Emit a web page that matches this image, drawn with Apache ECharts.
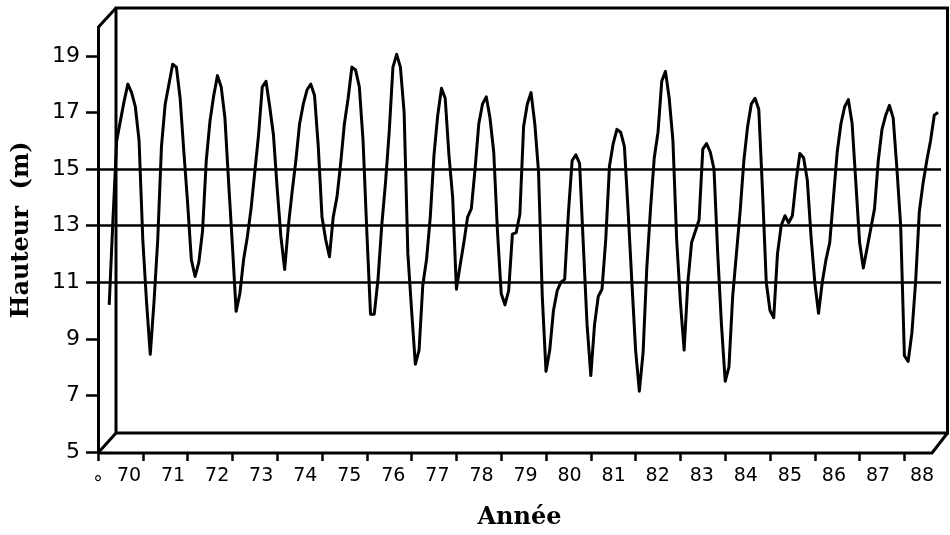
<!DOCTYPE html>
<html><head><meta charset="utf-8">
<script src="https://cdn.jsdelivr.net/npm/echarts@6/dist/echarts.min.js"></script>
<style>html,body{margin:0;padding:0;background:#fff}#c{width:950px;height:535px}</style>
</head><body><div id="c"></div>
<script>
// Monthly water height (m); first value = month index 3 of 1970
const startYear = 1970;
const startMonth = 3;
const hauteur = [
  10.2,13.2,16.0,16.7,17.4,18.0,17.7,17.2,16.0,
  12.5,10.3,8.45,10.3,12.5,15.8,17.3,18.0,18.7,18.6,17.5,15.6,
  13.8,11.8,11.2,11.7,12.8,15.3,16.7,17.6,18.3,17.9,16.8,14.5,
  12.3,9.97,10.6,11.8,12.6,13.6,14.9,16.2,17.9,18.1,17.2,16.2,
  14.3,12.6,11.45,13.0,14.2,15.3,16.6,17.3,17.8,18.0,17.6,15.8,
  13.3,12.5,11.9,13.3,14.0,15.2,16.6,17.5,18.6,18.5,17.9,16.0,
  12.8,9.87,9.87,11.1,13.0,14.5,16.3,18.6,19.05,18.6,17.0,12.0,
  10.0,8.1,8.6,10.9,11.8,13.3,15.5,16.9,17.85,17.5,15.5,14.0,
  10.75,11.6,12.4,13.3,13.6,15.0,16.6,17.3,17.55,16.8,15.6,12.8,
  10.6,10.2,10.7,12.7,12.75,13.4,16.5,17.3,17.7,16.6,14.9,10.5,
  7.85,8.6,10.0,10.7,11.0,11.1,13.45,15.3,15.5,15.2,12.3,9.5,
  7.7,9.5,10.5,10.75,12.5,15.1,15.9,16.4,16.3,15.8,13.5,11.0,
  8.6,7.15,8.5,11.5,13.6,15.4,16.3,18.1,18.45,17.5,16.0,12.5,
  10.3,8.6,11.0,12.4,12.8,13.2,15.7,15.9,15.6,15.0,12.0,9.5,
  7.5,8.0,10.5,12.0,13.5,15.3,16.5,17.3,17.5,17.1,14.2,11.0,
  10.0,9.75,12.0,13.0,13.35,13.1,13.35,14.6,15.55,15.4,14.6,12.6,
  11.0,9.9,11.0,11.8,12.4,14.0,15.6,16.6,17.2,17.45,16.6,14.5,
  12.4,11.5,12.2,12.9,13.6,15.3,16.4,16.9,17.25,16.8,15.0,13.0,
  8.4,8.2,9.2,11.0,13.5,14.5,15.3,16.0,16.9,17.0
];
const yearTicks = [1970,1971,1972,1973,1974,1975,1976,1977,1978,1979,1980,1981,1982,1983,1984,1985,1986,1987,1988];
const yearLabels = [70,71,72,73,74,75,76,77,78,79,80,81,82,83,84,85,86,87,88];
const originLabel = '°';
const yTicks = [5,7,9,11,13,15,17,19];
const gridLevels = [11,13,15];
const yTitle = 'Hauteur  (m)';
const xTitle = 'Année';

const seriesData = hauteur.map((v, i) => [startYear + (startMonth + i) / 12, v]);

const chart = echarts.init(document.getElementById('c'), null, {renderer: 'canvas'});
const F = 'DejaVu Sans';
const FS = 'DejaVu Serif';

// 3D-look frame (decoration)
const frame = {fl: 98, fb: 453, ft: 27.5, fr: 932, bl: 116, bt: 8, br: 947.5, bb: 433};

chart.setOption({
  backgroundColor: '#fff',
  animation: false,
  grid: {left: 98, top: 27.5, width: 843, height: 425.5},
  xAxis: [{
    type: 'value', min: 1970, max: 1988.817,
    axisLine: {show: false},
    axisTick: {show: true, customValues: yearTicks, length: 9, lineStyle: {color: '#000', width: 2.5}},
    axisLabel: {customValues: [1970], formatter: () => originLabel, margin: 24, fontSize: 19, fontFamily: F, color: '#000'},
    splitLine: {show: false}
  }, {
    type: 'value', min: 69.296, max: 88.43, position: 'bottom',
    axisLine: {show: false}, axisTick: {show: false}, splitLine: {show: false},
    axisLabel: {customValues: yearLabels, formatter: v => String(v), margin: 15, fontSize: 19, fontFamily: F, color: '#000'},
    name: xTitle, nameLocation: 'middle', nameGap: 54,
    nameTextStyle: {fontFamily: FS, fontWeight: 'bold', fontSize: 24, color: '#000'}
  }],
  yAxis: {
    type: 'value', min: 5, max: 20,
    axisLine: {show: true, lineStyle: {color: '#000', width: 3}},
    axisTick: {show: true, customValues: yTicks, length: 12, lineStyle: {color: '#000', width: 2.5}},
    axisLabel: {customValues: yTicks, margin: 18, fontSize: 22, fontFamily: F, color: '#000'},
    splitLine: {show: false},
    name: yTitle, nameLocation: 'middle', nameGap: 64, nameRotate: 90,
    nameTextStyle: {fontFamily: FS, fontWeight: 'bold', fontSize: 24, color: '#000', padding: [0, 0, 0, 20]}
  },
  graphic: [
    {type: 'rect', z: 0, shape: {x: frame.bl, y: frame.bt, width: frame.br - frame.bl, height: frame.bb - frame.bt},
     style: {fill: 'none', stroke: '#000', lineWidth: 3}},
    {type: 'line', z: 0, shape: {x1: frame.fl, y1: frame.ft, x2: frame.bl, y2: frame.bt}, style: {stroke: '#000', lineWidth: 3}},
    {type: 'line', z: 0, shape: {x1: frame.fl, y1: frame.fb, x2: frame.bl, y2: frame.bb}, style: {stroke: '#000', lineWidth: 3}},
    {type: 'polyline', z: 0, shape: {points: [[frame.fl, frame.fb], [frame.fr, frame.fb], [frame.br, frame.bb]]},
     style: {fill: 'none', stroke: '#000', lineWidth: 3}}
  ],
  series: [{
    type: 'line', xAxisIndex: 0, data: seriesData, showSymbol: false, z: 5,
    lineStyle: {color: '#000', width: 3, join: 'round'},
    markLine: {
      silent: true, symbol: 'none', label: {show: false},
      lineStyle: {color: '#000', width: 2.5, type: 'solid'},
      data: gridLevels.map(v => ({yAxis: v}))
    }
  }]
});
</script></body></html>
